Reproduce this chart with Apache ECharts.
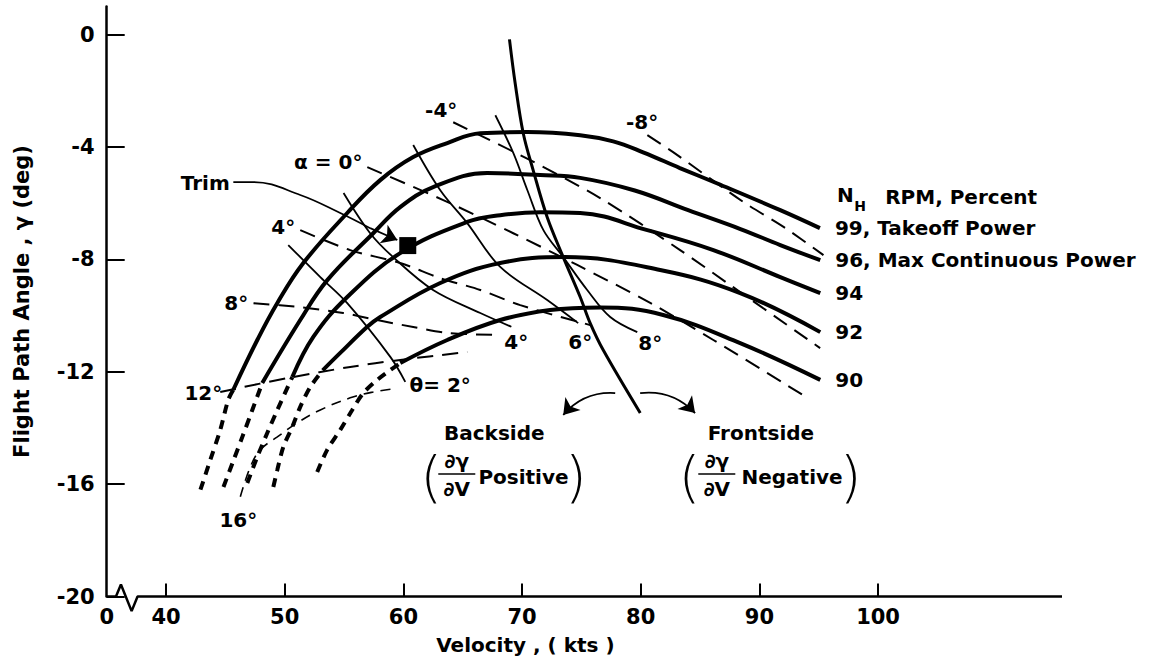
<!DOCTYPE html>
<html><head><meta charset="utf-8">
<script src="https://cdn.jsdelivr.net/npm/echarts@6/dist/echarts.min.js"></script>
<style>html,body{margin:0;padding:0;background:#fff}#c{width:1162px;height:664px}</style>
</head><body><div id="c"></div>
<script>
// ---------- tick values ----------
const xTicks = [40, 50, 60, 70, 80, 90, 100];
const xLabels = [35, 40, 50, 60, 70, 80, 90, 100]; // 35 is shown as "0" (broken axis)
const yTicks = [-20, -16, -12, -8, -4, 0];

// ---------- N_H RPM curves: [velocity kts, flight path angle deg] ----------
const rpmNames = ['99, Takeoff Power', '96, Max Continuous Power', '94', '92', '90'];
const rpm99 = [[45.66,-12.65],[47.69,-10.87],[49.38,-9.55],[51.57,-8.13],[55.27,-6.35],[58.05,-5.18],[60.83,-4.36],[63.7,-3.86],[66.48,-3.51],[70.44,-3.47],[74.9,-3.58],[77.68,-3.8],[80.2,-4.19],[83.3,-4.75],[86.46,-5.3],[91.76,-6.25],[95.1,-6.89]];
const rpm99Low = [[42.9,-16.2],[43.73,-15.14],[44.57,-14.07],[45.24,-13.0],[45.66,-12.65]];
const rpm96 = [[48.11,-12.4],[51.31,-10.16],[53.59,-8.74],[57.46,-7.07],[59.73,-6.14],[62.51,-5.43],[67.06,-4.93],[71.53,-5.0],[74.9,-5.1],[79.5,-5.55],[84.0,-6.25],[88.4,-6.92],[91.76,-7.49],[95.13,-8.03]];
const rpm96Low = [[44.84,-16.1],[45.6,-15.25],[46.43,-14.32],[47.27,-13.36],[48.11,-12.4]];
const rpm94 = [[50.64,-12.19],[52.41,-10.76],[55.27,-9.34],[59.73,-7.78],[65.38,-6.67],[68.16,-6.43],[71.53,-6.32],[74.9,-6.35],[80.56,-6.96],[86.12,-7.67],[91.76,-8.63],[95.13,-9.2]];
const rpm94Low = [[46.85,-15.96],[47.69,-15.03],[48.53,-14.18],[49.38,-13.36],[50.64,-12.19]];
const rpm92 = [[53.2,-11.95],[54.68,-11.33],[56.96,-10.4],[58.05,-10.05],[63.11,-8.84],[68.16,-8.13],[73.6,-7.92],[81.64,-8.38],[88.38,-9.2],[95.13,-10.59]];
const rpm92Low = [[49.04,-16.1],[49.38,-15.49],[49.88,-14.68],[50.64,-13.96],[51.31,-13.25],[52.16,-12.54],[53.2,-11.95]];
const rpm90 = [[59.74,-11.69],[63.7,-10.87],[68.16,-10.16],[72.37,-9.8],[76.58,-9.71],[81.89,-9.98],[88.38,-10.98],[95.13,-12.29]];
const rpm90Low = [[52.74,-15.57],[53.58,-14.78],[54.68,-14.07],[55.69,-13.36],[56.62,-12.76],[57.8,-12.29],[58.9,-11.94],[59.74,-11.69]];

// ---------- backside / frontside boundary ----------
const boundary = [[68.94,-0.17],[69.42,-1.73],[70.1,-3.51],[70.94,-4.83],[72.12,-6.5],[73.47,-7.92],[74.9,-9.34],[75.74,-10.27],[76.84,-11.23],[79.96,-13.47]];

// ---------- constant pitch attitude (theta) lines ----------
const theta2 = [[50.3,-7.49],[53.0,-8.63],[55.27,-9.56],[58.9,-11.47],[60.16,-12.36]];
const theta4 = [[54.96,-5.64],[57.2,-7.07],[59.14,-7.92],[62.5,-9.09],[66.48,-9.91],[69.1,-10.4]];
const theta6 = [[60.83,-3.93],[63.11,-5.54],[65.38,-6.71],[68.16,-8.27],[72.12,-9.45],[74.73,-10.27]];
const theta8 = [[67.75,-2.87],[69.27,-4.22],[70.45,-5.54],[71.8,-6.96],[73.47,-7.92],[75.49,-9.09],[77.43,-10.05],[79.71,-10.59]];

// ---------- constant angle of attack (alpha) lines ----------
const alphaM8 = [[80.56,-3.58],[83.09,-4.29],[88.66,-5.96],[92.2,-6.89],[95.4,-7.85]];
const alphaM4 = [[64.2,-3.12],[70.69,-4.47],[76.58,-5.82],[83.32,-7.67],[87.79,-8.99],[95.12,-11.16]];
const alpha0 = [[56.96,-4.72],[63.36,-5.89],[69.26,-7.07],[74.65,-8.2],[80.8,-9.55],[86.12,-10.87],[94.05,-12.93]];
const alpha4 = [[51.31,-6.96],[55.52,-7.67],[59.73,-8.13],[63.11,-8.67],[66.48,-9.09],[69.85,-9.63],[75.75,-10.34]];
const alpha8 = [[47.37,-9.56],[51.31,-9.7],[54.93,-9.91],[57.8,-10.16],[60.83,-10.41],[63.7,-10.62],[67.91,-10.69]];
const alpha12 = [[44.57,-12.72],[50.3,-12.22],[55.52,-11.83],[59.73,-11.58],[65.38,-11.3]];
const alpha16 = [[46.26,-16.45],[47.1,-15.39],[47.94,-14.78],[49.38,-14.32],[51.06,-13.82],[53.0,-13.36],[55.52,-12.93],[57.46,-12.72],[59.14,-12.61]];

// ---------- trim point and annotation pointers ----------
const trimPoint = [60.37, -7.51];
const trimLeader = [[45.67,-5.25],[47.36,-5.25],[51.31,-5.71],[54.68,-6.35],[57.2,-6.89]];
const trimArrowTip = [[57.2,-6.89],[59.49,-7.31]];
const backsideArrow = [[77.85,-12.76],[73.47,-13.54]];
const frontsideArrow = [[79.95,-12.76],[84.58,-13.47]];
const fracBarPos = [[62.94,-15.64],[66.06,-15.64]];
const fracBarNeg = [[84.85,-15.64],[87.97,-15.64]];
const axisBreak = [[35,-20],[35.78,-20],[36.2,-19.57],[37.1,-20.52],[37.6,-20],[115.5,-20]];

// ---------- text annotations [text, velocity, angle, align, fontSize] ----------
const annotations = [
  ['Trim', 43.31, -5.29],
  ['α = 0°', 53.67, -4.54],
  ['-4°', 63.19, -2.69],
  ['-8°', 80.11, -3.12],
  ['4°', 49.88, -6.85],
  ['8°', 45.92, -9.56],
  ['12°', 43.14, -12.76],
  ['16°', 46.09, -17.27],
  ['θ= 2°', 63.1, -12.47],
  ['4°', 69.51, -10.94],
  ['6°', 74.9, -10.94],
  ['8°', 80.8, -10.98],
  ['Backside', 67.66, -14.18],
  ['Frontside', 90.13, -14.18],
  ['∂γ', 64.5, -15.17],
  ['∂V', 64.5, -16.17],
  ['Positive', 70.12, -15.74],
  ['∂γ', 86.42, -15.17],
  ['∂V', 86.42, -16.17],
  ['Negative', 92.75, -15.74],
  ['N', 96.55, -5.72, 'left'],
  ['H', 98.0, -6.1, 'left', 14],
  ['RPM, Percent', 100.6, -5.79, 'left']
];
const parens = [
  ['(', 62.35, -15.72], [')', 74.55, -15.72],
  ['(', 84.1, -15.72], [')', 97.7, -15.72]
];

// ---------- build chart ----------
const FONT = 'DejaVu Sans';
const INK = '#000';
const txt = {color: INK, fontFamily: FONT, fontSize: 20, fontWeight: 'bold'};

function ln(data, width, extra) {
  return Object.assign({
    type: 'line', data, showSymbol: false, symbol: 'none', silent: true,
    clip: false, smooth: 0.3, lineStyle: {color: INK, width: width}
  }, extra || {});
}

const series = [];
const solids = [rpm99, rpm96, rpm94, rpm92, rpm90];
const lows = [rpm99Low, rpm96Low, rpm94Low, rpm92Low, rpm90Low];
solids.forEach((d, i) => {
  series.push(ln(d, 4, {
    smooth: 0.4,
    endLabel: Object.assign({show: true, formatter: rpmNames[i], distance: 15}, txt)
  }));
  series.push(ln(lows[i], 4, {smooth: 0.3, lineStyle: {color: INK, width: 4, type: [9, 7]}}));
});
series.push(ln(boundary, 3, {smooth: 0.35}));
[theta2, theta4, theta6, theta8].forEach(d => series.push(ln(d, 1.8, {smooth: 0.35})));
[alphaM8, alphaM4, alpha0, alpha4, alpha8, alpha12].forEach(d =>
  series.push(ln(d, 2, {smooth: 0.3, lineStyle: {color: INK, width: 2, type: [16, 9]}})));
series.push(ln(alpha16, 1.6, {smooth: 0.4, lineStyle: {color: INK, width: 1.6, type: [10, 7]}}));
series.push(ln(trimLeader, 1.8, {smooth: 0.4}));
series.push(ln(fracBarPos, 1.6, {smooth: false}));
series.push(ln(fracBarNeg, 1.6, {smooth: false}));
series.push(ln(axisBreak, 2.5, {smooth: false}));

series.push({
  type: 'lines', coordinateSystem: 'cartesian2d', silent: true,
  symbol: ['none', 'arrow'], symbolSize: [10, 15],
  lineStyle: {color: INK, width: 1.8, opacity: 1},
  data: [
    {coords: trimArrowTip, lineStyle: {curveness: 0}},
    {coords: backsideArrow, lineStyle: {curveness: -0.25}},
    {coords: frontsideArrow, lineStyle: {curveness: 0.25}}
  ]
});
series.push({
  type: 'scatter', silent: true, symbol: 'rect', symbolSize: 17,
  itemStyle: {color: INK, opacity: 1}, data: [trimPoint]
});
series.push({
  type: 'scatter', silent: true, symbolSize: 1, itemStyle: {color: 'transparent', opacity: 1},
  label: Object.assign({show: true, position: 'inside', formatter: '{b}'}, txt),
  data: annotations.map(a => ({
    name: a[0], value: [a[1], a[2]],
    label: {align: a[3] || 'center', fontSize: a[4] || 20}
  }))
});
series.push({
  type: 'scatter', silent: true, symbolSize: 1, itemStyle: {color: 'transparent', opacity: 1},
  label: {show: true, position: 'inside', formatter: '{b}', color: INK,
          fontFamily: FONT, fontSize: 56, fontWeight: 200},
  data: parens.map(p => ({name: p[0], value: [p[1], p[2]]}))
});

const chart = echarts.init(document.getElementById('c'), null, {renderer: 'svg'});
chart.setOption({
  animation: false,
  backgroundColor: '#fff',
  grid: {left: 106.7, right: 100, top: 6.5, bottom: 67.5, containLabel: false},
  xAxis: {
    type: 'value', min: 35, max: 115.5,
    axisLine: {show: false, onZero: false},
    splitLine: {show: false},
    axisTick: {show: true, inside: true, length: 13, customValues: xTicks,
               lineStyle: {color: INK, width: 2}},
    axisLabel: Object.assign({customValues: xLabels, margin: 10,
                formatter: v => (v === 35 ? '0' : String(v))}, txt, {fontSize: 21}),
    name: 'Velocity , ( kts )', nameLocation: 'middle', nameGap: 38,
    nameTextStyle: Object.assign({}, txt, {padding: [0, 118, 0, 0]})
  },
  yAxis: {
    type: 'value', min: -20, max: 1,
    axisLine: {show: true, onZero: false, lineStyle: {color: INK, width: 2.5}},
    splitLine: {show: false},
    axisTick: {show: true, inside: true, length: 18, customValues: yTicks,
               lineStyle: {color: INK, width: 2}},
    axisLabel: Object.assign({customValues: yTicks, margin: 12}, txt, {fontSize: 21}),
    name: 'Flight Path Angle , γ (deg)', nameLocation: 'middle', nameGap: 74,
    nameTextStyle: Object.assign({}, txt, {fontSize: 21})
  },
  series: series
});
</script></body></html>
